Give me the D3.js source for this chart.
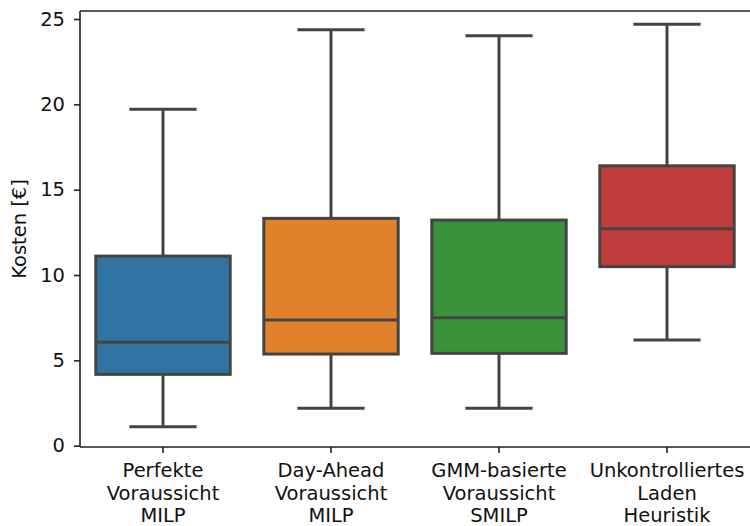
<!DOCTYPE html>
<html>
<head>
<meta charset="utf-8">
<script src="https://cdn.jsdelivr.net/npm/d3@7"></script>
<style>
  html, body { margin: 0; padding: 0; background: #ffffff; }
  svg { display: block; }
  text { font-family: "DejaVu Sans", sans-serif; fill: #111111; }
</style>
</head>
<body>
<svg id="chart" width="750" height="526"></svg>
<script>
// Cost distribution per charging strategy (box plot statistics, €)
const categories = [
  ["Perfekte", "Voraussicht", "MILP"],
  ["Day-Ahead", "Voraussicht", "MILP"],
  ["GMM-basierte", "Voraussicht", "SMILP"],
  ["Unkontrolliertes", "Laden", "Heuristik"]
];
const whiskerLow  = [1.11, 2.19, 2.19, 6.19];
const quartile1   = [4.18, 5.37, 5.41, 10.49];
const medians     = [6.06, 7.36, 7.50, 12.71];
const quartile3   = [11.11, 13.32, 13.22, 16.40];
const whiskerHigh = [19.71, 24.37, 24.02, 24.70];
const colors = ["#3274a1", "#e1812c", "#3a923a", "#c03d3e"];
const yTicks = [0, 5, 10, 15, 20, 25];
const yLabel = "Kosten [€]";

const rows = categories.map((c, i) => ({
  key: c.join(" "), lines: c,
  low: whiskerLow[i], q1: quartile1[i], med: medians[i],
  q3: quartile3[i], high: whiskerHigh[i], color: colors[i]
}));

const svg = d3.select("#chart");
const plotLeft = 79, plotRight = 751, plotTop = 11, plotBottom = 447;
const fontSize = 19.5;
const lineColor = "#444444";

const x = d3.scaleBand()
  .domain(rows.map(d => d.key))
  .range([plotLeft, plotRight])
  .paddingInner(0).paddingOuter(0);

const y = d3.scaleLinear()
  .domain([-0.076, 25.47])
  .range([plotBottom, plotTop]);

const boxW = x.bandwidth() * 0.8;
const capW = boxW / 2;

const g = svg.append("g");

rows.forEach(d => {
  const cx = x(d.key) + x.bandwidth() / 2;
  const grp = g.append("g");
  // whiskers
  grp.append("line")
    .attr("x1", cx).attr("x2", cx)
    .attr("y1", y(d.high)).attr("y2", y(d.q3))
    .attr("stroke", lineColor).attr("stroke-width", 3);
  grp.append("line")
    .attr("x1", cx).attr("x2", cx)
    .attr("y1", y(d.q1)).attr("y2", y(d.low))
    .attr("stroke", lineColor).attr("stroke-width", 3);
  // caps
  [d.high, d.low].forEach(v => {
    grp.append("line")
      .attr("x1", cx - capW / 2).attr("x2", cx + capW / 2)
      .attr("y1", y(v)).attr("y2", y(v))
      .attr("stroke", lineColor).attr("stroke-width", 3);
  });
  // box
  grp.append("rect")
    .attr("x", cx - boxW / 2)
    .attr("y", y(d.q3))
    .attr("width", boxW)
    .attr("height", y(d.q1) - y(d.q3))
    .attr("fill", d.color)
    .attr("stroke", lineColor).attr("stroke-width", 3);
  // median
  grp.append("line")
    .attr("x1", cx - boxW / 2).attr("x2", cx + boxW / 2)
    .attr("y1", y(d.med)).attr("y2", y(d.med))
    .attr("stroke", lineColor).attr("stroke-width", 3);
});

// y axis
const yAxis = d3.axisLeft(y).tickValues(yTicks).tickSize(6).tickPadding(9)
  .tickFormat(d3.format("d"));
const yg = svg.append("g").attr("transform", `translate(${plotLeft + 1},0)`).call(yAxis);
yg.select(".domain").remove();
yg.selectAll(".tick line").attr("stroke", "#222").attr("stroke-width", 1.6);
yg.selectAll(".tick text").attr("font-size", fontSize).attr("fill", "#111")
  .attr("font-family", "DejaVu Sans, sans-serif");

// x axis
const xAxis = d3.axisBottom(x).tickSize(6).tickFormat("");
const xg = svg.append("g").attr("transform", `translate(0,${plotBottom})`).call(xAxis);
xg.select(".domain").remove();
xg.selectAll(".tick line").attr("stroke", "#222").attr("stroke-width", 1.6);
xg.selectAll(".tick").each(function (k) {
  const row = rows.find(r => r.key === k);
  const t = d3.select(this).append("text")
    .attr("text-anchor", "middle")
    .attr("font-size", fontSize)
    .attr("fill", "#111")
    .attr("font-family", "DejaVu Sans, sans-serif");
  row.lines.forEach((ln, i) => {
    t.append("tspan").attr("x", 0).attr("y", 30 + i * 22.5).text(ln);
  });
});

// spines
const spine = svg.append("g").attr("stroke", "#222").attr("stroke-width", 1.6).attr("fill", "none");
spine.append("line").attr("x1", plotLeft + 1).attr("x2", plotLeft + 1).attr("y1", plotTop).attr("y2", plotBottom);
spine.append("line").attr("x1", plotLeft + 1).attr("x2", plotRight).attr("y1", plotBottom).attr("y2", plotBottom);
spine.append("line").attr("x1", plotLeft + 1).attr("x2", plotRight).attr("y1", plotTop).attr("y2", plotTop);
spine.append("line").attr("x1", plotRight).attr("x2", plotRight).attr("y1", plotTop).attr("y2", plotBottom);

// y label
svg.append("text")
  .attr("transform", `translate(26,${(plotTop + plotBottom) / 2}) rotate(-90)`)
  .attr("text-anchor", "middle")
  .attr("font-size", fontSize)
  .text(yLabel);
</script>
</body>
</html>
